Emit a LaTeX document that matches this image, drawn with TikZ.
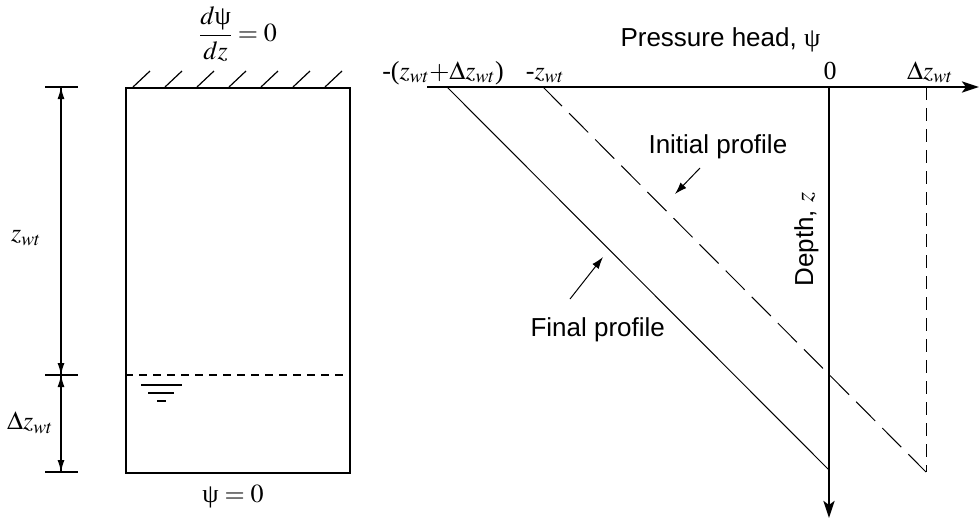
\documentclass[tikz,border=0pt]{standalone}
\usepackage{mathptmx}
\usepackage[no-math]{fontspec}
\setmainfont{Liberation Serif}
\setsansfont{Liberation Sans}
\usetikzlibrary{arrows.meta,positioning}
\newcommand{\psih}{\mbox{\rmfamily\upshape ψ}}

\begin{document}
\begin{tikzpicture}[
    x=1pt, y=-1pt,
    font=\fontsize{26}{30}\selectfont,
    wall/.style={
        draw,
        line width=1.8pt,
        inner sep=0pt
    },
    axis/.style={
        line width=2.8pt,
        -{Stealth[length=17pt,width=11pt,inset=4pt]}
    },
    dim/.style={
        line width=1.2pt,
        -{Latex[length=12pt,width=7pt]}
    },
    tick/.style={line width=1.2pt},
    prof/.style={line width=1pt},
    lbl/.style={font=\fontsize{26}{30}\sffamily},
    ptr/.style={
        line width=1pt,
        -{Latex[length=12pt,width=8pt]}
    }
]
\useasboundingbox (0,0) rectangle (979,523);

% soil column
\node[
    wall,
    minimum width=224pt,
    minimum height=385pt,
    anchor=north west
] (col) at (125,87) {};

\foreach \hx in {133,165,...,325}
    \draw[tick] (\hx,87) -- ++(17,-16);

\node (top) at (238,34) {$\displaystyle\frac{d\psih}{dz}=0$};
\node (bot) at (233,497) {$\psih=0$};

% water table
\coordinate (wl) at (125,375);
\coordinate (wr) at (349,375);
\draw[tick, dash pattern=on 8pt off 6pt] (wl) -- (wr);

\draw[tick] (141,385) -- (182,385);
\draw[tick] (148,393) -- (174,393);
\draw[tick] (157,401) -- (166,401);

% dimensions
\coordinate (d1) at (61,87);
\coordinate (d2) at (61,375);
\coordinate (d3) at (61,472);
\foreach \d in {d1,d2,d3}
    \draw[tick] ([xshift=-16pt]\d) -- ([xshift=17pt]\d);
\draw[dim] (d2) -- (d1);
\draw[dim] (d1) -- (d2);
\draw[dim] (d2) -- (d3);
\draw[dim] (d3) -- (d2);

\node (zlab) at (26,238) {$z_{wt}$};
\node (dzlab) at (30,423) {$\Delta z_{wt}$};

% pressure head axes
\coordinate (ax0) at (427,87);
\coordinate (axe) at (979,87);
\coordinate (o) at (829,87);
\coordinate (dep) at (829,518);

\coordinate (f0) at (447,87);
\coordinate (f1) at (829,470);
\coordinate (i0) at (543,87);
\coordinate (i1) at (926,472);
\coordinate (v0) at (926,87);

\draw[prof] (f0) -- (f1);
\draw[prof, dash pattern=on 27pt off 10pt] (i0) -- (i1);
\draw[prof, dash pattern=on 13pt off 8pt] (v0) -- (i1);

\draw[axis] (ax0) -- (axe);
\draw[axis] (o) -- (dep);

\node[anchor=base] (xl1) at (443,79) {-($z_{wt}{+}\Delta z_{wt}$)};
\node[anchor=base] (xl2) at (545,79) {-$z_{wt}$};
\node[anchor=base] (xl3) at (830,79) {0};
\node[anchor=base] (xl4) at (930,79) {$\Delta z_{wt}$};

\node[lbl, anchor=base west] (ph) at (617,46) {Pressure head, \psih};
\node[lbl, rotate=90, anchor=base west] (depth) at (813,290) {Depth, $z$};

\node[lbl, anchor=base west] (ini) at (645,153) {Initial profile};
\node[lbl, anchor=base west] (fin) at (527,336) {Final profile};

\coordinate (ia) at (700,168);
\coordinate (ib) at (675,194);
\coordinate (fa) at (570,299);
\coordinate (fb) at (603,257);
\draw[ptr] (ia) -- (ib);
\draw[ptr] (fa) -- (fb);

\end{tikzpicture}
\end{document}
